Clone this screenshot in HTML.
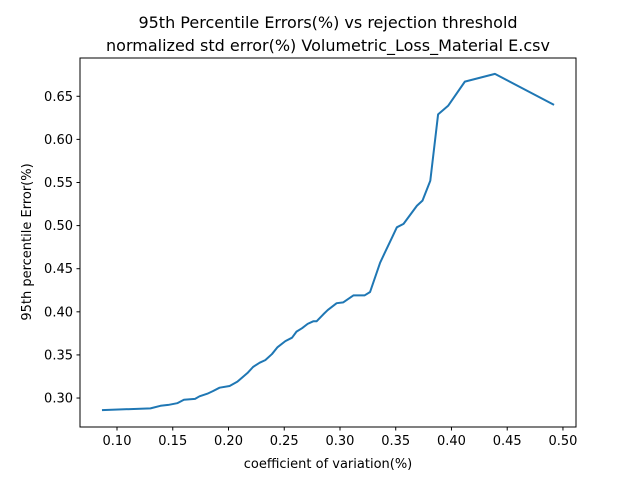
<!DOCTYPE html>
<html><head><meta charset="utf-8"><style>
body{margin:0;background:#fff;font-family:"Liberation Sans","DejaVu Sans",sans-serif}
svg text{font-family:"DejaVu Sans","Liberation Sans",sans-serif}
</style></head><body>
<svg width="640" height="480" xmlns="http://www.w3.org/2000/svg" id="chart">
<rect width="640" height="480" fill="#fff"/>
<text x="328" y="28" font-size="16" text-anchor="middle">95th Percentile Errors(%) vs rejection threshold</text>
<text x="328" y="51" font-size="16" text-anchor="middle">normalized std error(%) Volumetric_Loss_Material E.csv</text>
<g id="ticks"></g>
<polyline id="line" fill="none" stroke="#1f77b4" stroke-width="2" stroke-linejoin="round"/>
<rect x="80" y="58" width="496" height="369" fill="none" stroke="#000" stroke-width="1"/>
<text x="328" y="468" font-size="13" text-anchor="middle">coefficient of variation(%)</text>
<text transform="translate(31,242) rotate(-90)" font-size="13" text-anchor="middle">95th percentile Error(%)</text>
</svg>
<script>
const xValues=[0.0865,0.130,0.139,0.146,0.154,0.160,0.170,0.174,0.181,0.186,0.192,0.201,0.208,0.217,0.222,0.228,0.233,0.239,0.244,0.251,0.257,0.261,0.266,0.271,0.276,0.279,0.285,0.289,0.297,0.303,0.312,0.322,0.327,0.336,0.340,0.347,0.351,0.357,0.369,0.374,0.381,0.388,0.397,0.412,0.439,0.492];
const yValues=[0.286,0.288,0.291,0.292,0.294,0.298,0.299,0.302,0.305,0.308,0.312,0.314,0.319,0.329,0.336,0.341,0.344,0.351,0.359,0.366,0.370,0.377,0.381,0.386,0.389,0.389,0.397,0.402,0.410,0.411,0.419,0.419,0.423,0.457,0.468,0.487,0.498,0.502,0.523,0.529,0.552,0.629,0.639,0.667,0.676,0.640];
const xTicks=[0.10,0.15,0.20,0.25,0.30,0.35,0.40,0.45,0.50];
const yTicks=[0.30,0.35,0.40,0.45,0.50,0.55,0.60,0.65];
const X0=80,X1=576,Y0=427,Y1=58,xMin=0.0668,xMax=0.5117,yMin=0.2664,yMax=0.6944;
const sx=v=>X0+(v-xMin)/(xMax-xMin)*(X1-X0);
const sy=v=>Y0-(v-yMin)/(yMax-yMin)*(Y0-Y1);
const NS="http://www.w3.org/2000/svg",g=document.getElementById('ticks');
function mk(t,a){const e=document.createElementNS(NS,t);for(const k in a)e.setAttribute(k,a[k]);g.appendChild(e);return e;}
xTicks.forEach(v=>{const x=sx(v);
 const l=mk('line',{x1:x,x2:x,y1:427,y2:430.5,stroke:'#000'});
 
 
 const t=mk('text',{x:x,y:445,'font-size':13,'text-anchor':'middle'});t.textContent=v.toFixed(2);
 
 });
yTicks.forEach(v=>{const y=sy(v);
 const l=mk('line',{x1:76.5,x2:80,y1:y,y2:y,stroke:'#000'});
 
 
 const t=mk('text',{x:73,y:y+4.5,'font-size':13,'text-anchor':'end'});t.textContent=v.toFixed(2);
 
 });
document.getElementById('line').setAttribute('points',xValues.map((v,i)=>sx(v)+','+sy(yValues[i])).join(' '));
</script>
</body></html>
